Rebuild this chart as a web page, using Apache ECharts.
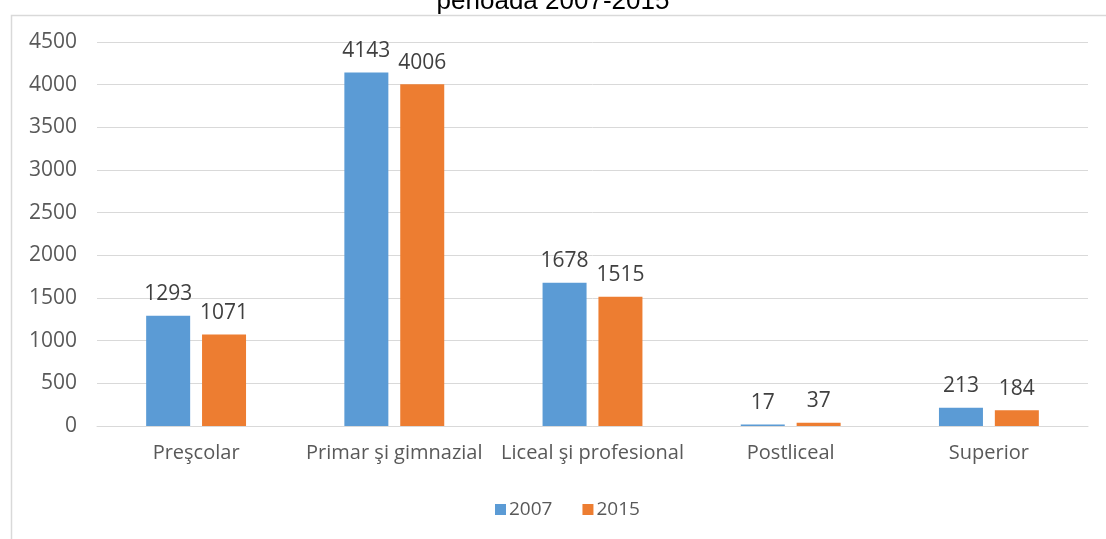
<!DOCTYPE html>
<html>
<head>
<meta charset="utf-8">
<script src="https://cdn.jsdelivr.net/npm/echarts@6/dist/echarts.min.js"></script>
<style>
  html, body { margin: 0; padding: 0; background: #fff; }
  #chart { width: 1106px; height: 539px; }
</style>
</head>
<body>
<div id="chart"></div>
<script>
const categories = ['Preşcolar', 'Primar şi gimnazial', 'Liceal şi profesional', 'Postliceal', 'Superior'];
const values2007 = [1293, 4143, 1678, 17, 213];
const values2015 = [1071, 4006, 1515, 37, 184];
const yTicks = { min: 0, max: 4500, interval: 500 };

const font = '"Open Sans", sans-serif';
const myChart = echarts.init(document.getElementById('chart'));

const barLabel = {
  show: true,
  position: 'top',
  distance: 11,
  color: '#404040',
  fontFamily: font,
  fontSize: 21
};

myChart.setOption({
  animation: false,
  title: {
    text: 'perioada 2007-2015',
    left: 'center',
    top: -16,
    textStyle: { fontFamily: 'Liberation Sans, Arial, sans-serif', fontWeight: 'normal', fontSize: 26, color: '#000' }
  },
  graphic: [{
    type: 'rect',
    left: 9, top: 13,
    shape: { width: 1200, height: 600 },
    style: { fill: 'none', stroke: '#d9d9d9', lineWidth: 1.5 },
    z: -1
  }],
  grid: { left: 97, right: 18, top: 42, bottom: 113 },
  legend: {
    bottom: 15,
    left: 490,
    itemWidth: 11,
    itemHeight: 11,
    itemGap: 30,
    icon: 'rect',
    textStyle: { fontFamily: font, fontSize: 19, color: '#595959', padding: [0, 0, 0, -2] }
  },
  xAxis: {
    type: 'category',
    data: categories,
    axisLine: { lineStyle: { color: '#d9d9d9' } },
    axisTick: { show: false },
    axisLabel: { color: '#595959', fontFamily: font, fontSize: 20, margin: 17, interval: 0 }
  },
  yAxis: {
    type: 'value',
    min: yTicks.min,
    max: yTicks.max,
    interval: yTicks.interval,
    axisLine: { show: false },
    axisTick: { show: false },
    splitLine: { lineStyle: { color: '#d9d9d9', width: 1 } },
    axisLabel: { color: '#595959', fontFamily: font, fontSize: 21, margin: 20, formatter: v => String(v) }
  },
  series: [
    {
      name: '2007',
      type: 'bar',
      data: values2007,
      barWidth: 44,
      barGap: '27%',
      itemStyle: { color: '#5b9bd5' },
      label: barLabel
    },
    {
      name: '2015',
      type: 'bar',
      data: values2015,
      barWidth: 44,
      itemStyle: { color: '#ed7d31' },
      label: barLabel
    }
  ]
});

window.addEventListener('resize', () => myChart.resize());
</script>
</body>
</html>
